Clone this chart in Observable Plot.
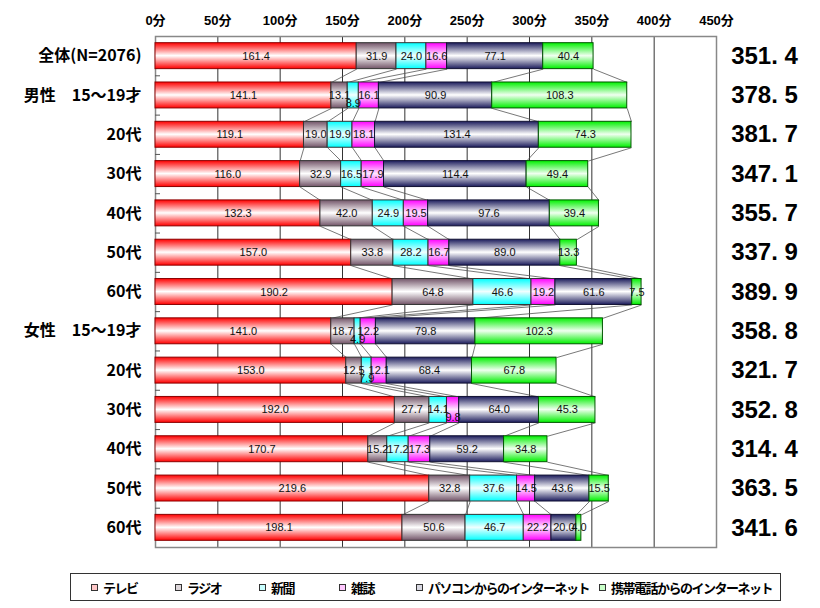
<!DOCTYPE html>
<html><head><meta charset="utf-8">
<script src="https://cdn.jsdelivr.net/npm/d3@7"></script>
<script src="https://cdn.jsdelivr.net/npm/@observablehq/plot@0.6"></script>
<style>
body{margin:0;background:#fff;font-family:"Liberation Sans","Noto Sans CJK JP",sans-serif;}
#chart svg{display:block;}
#legend{position:relative;margin:7px 0 0 70px;width:711px;height:28px;border:1px solid #333;box-sizing:border-box;font-family:"Noto Sans CJK JP",sans-serif;font-weight:bold;font-size:13px;letter-spacing:-1.5px;color:#000;}
#legend .it{position:absolute;top:0;height:26px;display:flex;align-items:center;white-space:nowrap;}
#legend .sw{width:5px;height:5px;border:1px solid #333;margin-right:5px;display:inline-block;}
</style></head><body>
<div id="chart"></div>
<div id="legend"></div>
<script>
const categories = ["全体(N=2076)","男性　15～19才","20代","30代","40代","50代","60代","女性　15～19才","20代","30代","40代","50代","60代"];
const series = ["テレビ","ラジオ","新聞","雑誌","パソコンからのインターネット","携帯電話からのインターネット"];
const tv     = [161.4,141.1,119.1,116.0,132.3,157.0,190.2,141.0,153.0,192.0,170.7,219.6,198.1];
const radio  = [31.9,13.1,19.0,32.9,42.0,33.8,64.8,18.7,12.5,27.7,15.2,32.8,50.6];
const paper  = [24.0,8.9,19.9,16.5,24.9,28.2,46.6,4.9,7.9,14.1,17.2,37.6,46.7];
const mag    = [16.6,16.1,18.1,17.9,19.5,16.7,19.2,12.2,12.1,9.8,17.3,14.5,22.2];
const pcNet  = [77.1,90.9,131.4,114.4,97.6,89.0,61.6,79.8,68.4,64.0,59.2,43.6,20.0];
const mobNet = [40.4,108.3,74.3,49.4,39.4,13.3,7.5,102.3,67.8,45.3,34.8,15.5,4.0];
const totals = [351.4,378.5,381.7,347.1,355.7,337.9,389.9,358.8,321.7,352.8,314.4,363.5,341.6];
const xTicks = [0,50,100,150,200,250,300,350,400,450];

// styles
const edgeColors   = ["#ff0000","#725468","#00ffff","#ff00ff","#1c1c5c","#00f000"];
const centerColors = ["#ffffff","#ffffff","#f0ffff","#ffe8ff","#ffffff","#f0fff0"];
const strokeColors = ["#8b0000","#333333","#333333","#333333","#111133","#005500"];
const swatchColors = ["#ffc8c8","#ddd6da","#c8ffff","#ffc8ff","#d8d8e2","#c8ffc8"];
const legendLeft   = [20, 104, 188, 268, 345, 528];

const seriesValues = [tv, radio, paper, mag, pcNet, mobNet];
const segments = [];
const cums = [];
categories.forEach((c, i) => {
  let acc = 0;
  const row = [];
  seriesValues.forEach((arr, k) => {
    const v = arr[i];
    segments.push({i, k, s: series[k], value: v, x1: acc, x2: acc + v, last: k === seriesValues.length - 1});
    acc += v;
    row.push(acc);
  });
  cums.push(row);
});
const half = 0.33;
const links = [];
for (let i = 0; i < categories.length - 1; i++) {
  for (let k = 0; k < seriesValues.length; k++) {
    links.push({x1: cums[i][k], y1: i + half, x2: cums[i+1][k], y2: i + 1 - half});
  }
}
const fmt = d3.format(".1f");
const rowIdx = d3.range(categories.length);

const plot = Plot.plot({
  width: 820, height: 566,
  marginTop: 36, marginLeft: 155, marginRight: 104, marginBottom: 19,
  style: {fontFamily: "'Liberation Sans','Noto Sans CJK JP',sans-serif", background: "#fff"},
  x: {domain: [0, 450], label: null},
  y: {domain: [-0.5, 12.5], reverse: true, label: null},
  color: {type: "ordinal", domain: series, range: series.map((_, k) => `url(#grad${k})`)},
  marks: [
    Plot.ruleX(xTicks.slice(1, -1), {stroke: "#333", strokeWidth: 1}),
    Plot.frame({stroke: "#888", strokeWidth: 1.5}),
    Plot.link(links, {x1: "x1", y1: "y1", x2: "x2", y2: "y2", stroke: "#555", strokeWidth: 0.8}),
    Plot.rect(segments, {x1: "x1", x2: "x2", y1: d => d.i - half, y2: d => d.i + half, fill: "s", stroke: d => strokeColors[d.k], strokeWidth: 1}),
    Plot.text(segments.filter(d => d.value >= 10 || d.last), {x: d => (d.x1 + d.x2) / 2, y: "i", text: d => fmt(d.value), fontSize: 11, fill: "#111"}),
    Plot.text(segments.filter(d => d.value < 10 && !d.last), {x: d => (d.x1 + d.x2) / 2, y: "i", text: d => fmt(d.value), fontSize: 11, fill: "#111", dy: 8}),
    Plot.axisX(xTicks, {anchor: "top", tickFormat: d => d + "分", tickSize: 0, tickPadding: 12, fontSize: 13, fontWeight: "bold", fill: "#000"}),
    Plot.axisY(rowIdx, {anchor: "left", tickFormat: i => categories[i], tickSize: 0, tickPadding: 14, fontSize: 16, fontWeight: "bold", fill: "#000", fontFamily: "'Noto Sans CJK JP',sans-serif"}),
    Plot.axisY(rowIdx.slice(0, -1).map(i => i + 0.5), {anchor: "left", tickFormat: () => "", tickSize: -5, stroke: "#555"}),
    Plot.text(totals.map((v, i) => ({v, i})), {y: "i", text: d => fmt(d.v).replace(".", ". "), frameAnchor: "right", dx: 48, textAnchor: "middle", fontSize: 24, fontWeight: "bold", fill: "#000"})
  ]
});

const defs = d3.select(plot).insert("defs", ":first-child");
series.forEach((s, k) => {
  const g = defs.append("linearGradient").attr("id", `grad${k}`)
    .attr("x1", 0).attr("y1", 0).attr("x2", 0).attr("y2", 1);
  g.append("stop").attr("offset", "0%").attr("stop-color", edgeColors[k]);
  g.append("stop").attr("offset", "50%").attr("stop-color", centerColors[k]);
  g.append("stop").attr("offset", "100%").attr("stop-color", edgeColors[k]);
});
document.getElementById("chart").appendChild(plot);

const legend = d3.select("#legend");
series.forEach((s, k) => {
  const it = legend.append("div").attr("class", "it").style("left", legendLeft[k] + "px");
  it.append("span").attr("class", "sw").style("background", swatchColors[k]);
  it.append("span").text(s);
});
</script>
</body></html>
